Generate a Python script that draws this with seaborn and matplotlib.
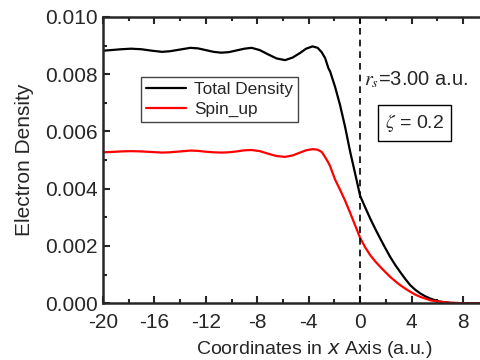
import numpy as np
import pandas as pd
import matplotlib
matplotlib.use("Agg")
import matplotlib.pyplot as plt
import seaborn as sns
from matplotlib.ticker import MultipleLocator, FormatStrFormatter

sns.set_style("ticks")
plt.rcParams['font.family'] = ['Liberation Sans', 'DejaVu Sans']
plt.rcParams['axes.unicode_minus'] = False

# values
x_pos = [-20, -19.4, -18.6, -17.8, -17.0, -16.2, -15.4, -14.8, -14.0, -13.2,
         -12.6, -12.0, -11.4, -10.8, -10.2, -9.6, -9.0, -8.43, -7.8, -7.15,
         -6.5, -5.84, -5.25, -4.67, -4.2, -3.7, -3.3, -2.98, -2.72, -2.46,
         -2.33, -1.95, -1.56, -1.17, -0.78, -0.39, 0, 0.39, 0.78, 1.17, 1.56,
         1.95, 2.33, 2.72, 3.11, 3.5, 3.89, 4.28, 4.67, 5.06, 5.45, 5.84,
         6.23, 7.0, 7.8, 9.4]
total_density = [0.00882, 0.00884, 0.00887, 0.00889, 0.00887, 0.00882, 0.00878,
                 0.00880, 0.00886, 0.00892, 0.00890, 0.00884, 0.00878, 0.00875,
                 0.00877, 0.00883, 0.00889, 0.00892, 0.00884, 0.00869, 0.00855,
                 0.00849, 0.00858, 0.00874, 0.00889, 0.00897, 0.00892, 0.00876,
                 0.00856, 0.00820, 0.00809, 0.00756, 0.00692, 0.00616, 0.00530,
                 0.00453, 0.00375, 0.00335, 0.00296, 0.00260, 0.00226, 0.00193,
                 0.00162, 0.00134, 0.00109, 0.00085, 0.00063, 0.00047, 0.00034,
                 0.00024, 0.00016, 0.00010, 0.00005, 0.00001, 0.0, 0.0]
spin_up = [0.00527, 0.00528, 0.00530, 0.00531, 0.00530, 0.00528, 0.00526,
           0.00527, 0.00530, 0.00533, 0.00532, 0.00529, 0.00527, 0.00526,
           0.00527, 0.00530, 0.00534, 0.00535, 0.00531, 0.00522, 0.00514,
           0.00511, 0.00516, 0.00526, 0.00534, 0.00538, 0.00536, 0.00528,
           0.00510, 0.00490, 0.00478, 0.00432, 0.00396, 0.00358, 0.00316,
           0.00272, 0.00228, 0.00195, 0.00168, 0.00146, 0.00127, 0.00109,
           0.00092, 0.00077, 0.00063, 0.00051, 0.00040, 0.00030, 0.00022,
           0.00016, 0.00010, 0.00007, 0.00005, 0.00001, 0.0, 0.0]
series_names = ["Total Density", "Spin_up"]

df = pd.DataFrame({
    "x": x_pos * 2,
    "density": total_density + spin_up,
    "series": [series_names[0]] * len(x_pos) + [series_names[1]] * len(x_pos),
})

fig = plt.figure(figsize=(4.81, 3.6), dpi=100)
ax = fig.add_axes([0.214, 0.158, 0.786, 0.795])

sns.lineplot(data=df, x="x", y="density", hue="series",
             palette={"Total Density": "black", "Spin_up": "red"},
             linewidth=1.6, ax=ax)
ax.axvline(0, color="black", linestyle=(0, (4, 3)), linewidth=1.2)

ax.set_xlim(-20, 9.4)
ax.set_ylim(0, 0.010)
ax.xaxis.set_major_locator(MultipleLocator(4))
ax.xaxis.set_minor_locator(MultipleLocator(2))
ax.yaxis.set_major_locator(MultipleLocator(0.002))
ax.yaxis.set_minor_locator(MultipleLocator(0.001))
ax.yaxis.set_major_formatter(FormatStrFormatter("%.3f"))
ax.tick_params(which="both", direction="in", top=True, right=False,
               width=1.5, labelsize=15)
ax.tick_params(which="major", length=5)
ax.tick_params(which="minor", length=3)
ax.tick_params(axis="x", which="major", pad=7)
ax.tick_params(axis="y", which="major", pad=4)
for side in ["left", "bottom", "top"]:
    ax.spines[side].set_linewidth(1.8)
ax.spines["right"].set_visible(False)

ax.set_xlabel("Coordinates in $x$ Axis (a.u.)", fontsize=14,
              math_fontfamily="dejavusans")
ax.xaxis.set_label_coords(0.558, -0.125)
ax.set_ylabel("Electron Density", fontsize=15, labelpad=8)

leg = ax.legend(loc="upper left", bbox_to_anchor=(0.1, 0.79), fontsize=12.4,
                frameon=True, fancybox=False, edgecolor="#444444",
                handlelength=2.3, borderpad=0.3, labelspacing=0.25,
                handletextpad=0.5, borderaxespad=0)
leg.get_frame().set_linewidth(1.0)
leg.get_frame().set_alpha(1)

ax.text(0.3, 0.0078, "$r_s$=3.00 a.u.", fontsize=14.5, va="center", ha="left",
        math_fontfamily="stix")
ax.text(4.2, 0.0063, r"$\zeta$ = 0.2", fontsize=14, va="center", ha="center",
        math_fontfamily="stix",
        bbox=dict(boxstyle="square,pad=0.35", fc="white", ec="black", lw=1.0))

fig.savefig("out.png", dpi=100)
